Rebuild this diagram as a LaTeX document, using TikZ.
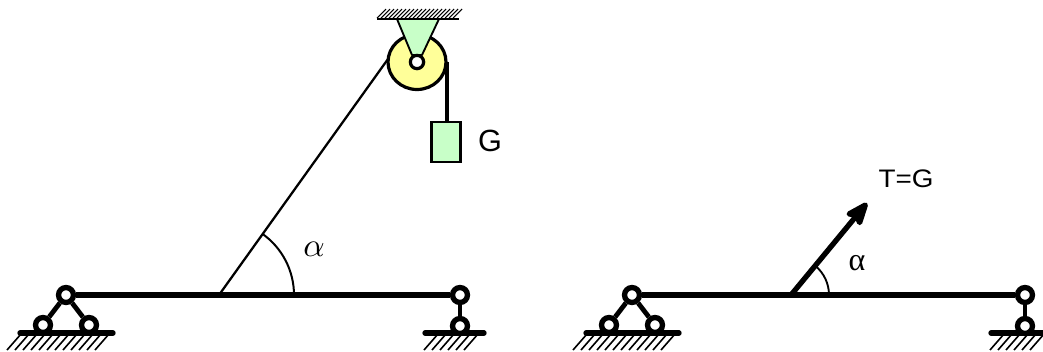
\documentclass[tikz,border=0pt]{standalone}
\usepackage{fontspec}
\setmainfont{Liberation Sans}
\newfontfamily\serifgreek{Liberation Serif}
\usetikzlibrary{arrows.meta,positioning,calc}

\definecolor{palegreen}{RGB}{200,255,200}
\definecolor{paleyellow}{RGB}{255,255,153}

\tikzset{
  pin/.style={circle,draw=black,fill=white,line width=4pt,inner sep=0pt,minimum size=11.2pt},
  beam/.style={line width=4pt},
  link/.style={line width=3.6pt},
  hatch/.style={line width=1.2pt},
  ground/.style={line width=4pt,line cap=round}
}

\begin{document}
\begin{tikzpicture}[x=0.75pt,y=-0.75pt]

  \useasboundingbox (0,0) rectangle (1043,351);

  \def\dx{566} % shift of the right beam

  %%% left beam
  \coordinate (RopeFoot) at (219,295);
  \coordinate (ArcEnd) at ($(RopeFoot) + (75,0)$);

  %% fixed support
  \foreach \i in {0,...,11}
  { \draw[hatch] ($(7,350) + (\i*8,0)$) -- ++(14,-16); }
  \draw[ground] (20,333) -- (113,333);
  %% roller support
  \foreach \i in {0,...,5}
  { \draw[hatch] ($(424,350) + (\i*8,0)$) -- ++(14,-16); }
  \draw[ground] (425,333) -- (484,333);

  \node (FixTop) at (66,295) [pin] {};
  \node (FixL) at (43,325) [pin] {};
  \node (FixR) at (89,325) [pin] {};
  \node (RollTop) at (460,295) [pin] {};
  \node (RollBot) at (460,326) [pin] {};

  \draw[beam] (FixTop) -- (RollTop);
  \draw[link] (FixTop) -- (FixL);
  \draw[link] (FixTop) -- (FixR);
  \draw[link] (RollTop) -- (RollBot);

  %% pulley and weight
  \foreach \i in {0,...,19}
  { \draw[line width=0.8pt] ($(377,18) + (\i*4,0)$) -- ++(9,-9); }
  \draw[line width=1.2pt] (377,19) -- (459,19);

  \coordinate (PulleyC) at (417,62);
  \draw[line width=2.4pt,fill=paleyellow] (PulleyC) ellipse (29 and 27.5);
  \draw[line width=1.4pt,fill=palegreen,line join=round] (397,19) -- (439,19) -- (422,55) -- (412,55) -- cycle;
  \node (Axle) at (PulleyC) [circle,draw=black,fill=white,line width=2.4pt,inner sep=0pt,minimum size=10pt] {};

  \node (Weight) at (446,142) [rectangle,draw=black,fill=palegreen,line width=2.2pt,inner sep=0pt,minimum width=21.5pt,minimum height=30pt] {};
  \coordinate (RopeTop) at (447,62);
  \draw[line width=2.6pt] (RopeTop) -- (Weight.north -| RopeTop);
  \node (LabelG) at (490,141) {\fontsize{23}{26}\selectfont G};

  \coordinate (RopeTan) at (388,59);
  \draw[line width=1.7pt] (RopeFoot) -- (RopeTan);
  \draw[line width=1.5pt] (ArcEnd) arc[start angle=0,end angle=-54.3,radius=75];
  \node (AlphaL) at (314,249) [scale=2.5] {$\alpha$};

  %%% right beam
  \foreach \i in {0,...,11}
  { \draw[hatch] ($(7+\dx,350) + (\i*8,0)$) -- ++(14,-16); }
  \draw[ground] (20+\dx,333) -- (113+\dx,333);
  \foreach \i in {0,...,5}
  { \draw[hatch] ($(424+\dx,350) + (\i*8,0)$) -- ++(14,-16); }
  \draw[ground] (425+\dx,333) -- (484+\dx,333);

  \node (FixTop2) at (66+\dx,295) [pin] {};
  \node (FixL2) at (43+\dx,325) [pin] {};
  \node (FixR2) at (89+\dx,325) [pin] {};
  \node (RollTop2) at (459+\dx,295) [pin] {};
  \node (RollBot2) at (459+\dx,326) [pin] {};

  \draw[beam] (FixTop2) -- (RollTop2);
  \draw[link] (FixTop2) -- (FixL2);
  \draw[link] (FixTop2) -- (FixR2);
  \draw[link] (RollTop2) -- (RollBot2);

  %% force
  \coordinate (ForceFoot) at (791,295);
  \coordinate (ForceTip) at (867,203);
  \draw[line width=4pt,-{Stealth[length=22pt,width=17pt,inset=4pt,round]}] (ForceFoot) -- (ForceTip);
  \draw[line width=1.4pt] ($(ForceFoot) + (38,0)$) arc[start angle=0,end angle=-50.4,radius=38];
  \node (AlphaR) at (857,263) {\fontsize{24}{26}\selectfont\serifgreek α};
  \node (LabelT) at (906,179) [xscale=1.1] {\fontsize{19}{22}\selectfont T=G};

\end{tikzpicture}
\end{document}
